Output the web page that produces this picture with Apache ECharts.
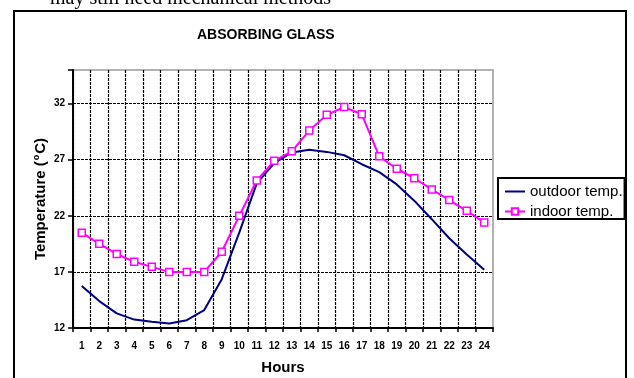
<!DOCTYPE html>
<html>
<head>
<meta charset="utf-8">
<script src="https://cdn.jsdelivr.net/npm/echarts@6/dist/echarts.min.js"></script>
<style>
  html, body { margin: 0; padding: 0; background: #fff; }
  #chart { width: 634px; height: 378px; }
</style>
</head>
<body>
<div id="chart"></div>
<script>
// Hourly temperatures behind absorbing glass
const hours = ['1','2','3','4','5','6','7','8','9','10','11','12','13','14','15','16','17','18','19','20','21','22','23','24'];
const outdoorTemp = [15.75, 14.4, 13.3, 12.75, 12.55, 12.4, 12.7, 13.6, 16.35, 20.5, 24.9, 26.7, 27.65, 27.9, 27.7, 27.4, 26.6, 25.9, 24.8, 23.35, 21.7, 20.0, 18.55, 17.2];
const indoorTemp = [20.5, 19.5, 18.6, 17.9, 17.45, 17.0, 17.0, 17.0, 18.8, 22.0, 25.15, 26.9, 27.75, 29.6, 31.0, 31.7, 31.05, 27.3, 26.2, 25.35, 24.35, 23.4, 22.45, 21.4];
const yMin = 12, yMax = 35, yStep = 5;

const FONT = 'Liberation Sans, Arial, sans-serif';
const GRID_DASH = [3, 1];

// vertical grid lines: all black except the right edge, which the grey plot border shows
const vLineColors = hours.map(() => '#000').concat(['rgba(0,0,0,0)']);
// horizontal grid lines: black except the top edge
const hLineColors = [];
for (let v = yMin; v < yMax; v += yStep) hLineColors.push('#000');
hLineColors.push('rgba(0,0,0,0)');

const chart = echarts.init(document.getElementById('chart'), null, { renderer: 'canvas' });

chart.setOption({
  animation: false,
  backgroundColor: '#fff',
  title: {
    text: 'ABSORBING GLASS',
    left: 192,
    top: 23,
    textStyle: { fontFamily: FONT, fontSize: 14, fontWeight: 'bold', color: '#000' }
  },
  graphic: [
    {
      type: 'text',
      left: 50,
      top: -11,
      style: { text: 'may still need mechanical methods', font: '20px "Liberation Serif", "Times New Roman", serif', fill: '#000' }
    },
    {
      type: 'rect',
      shape: { x: 14, y: 11, width: 612, height: 400 },
      style: { fill: 'none', stroke: '#000', lineWidth: 2 }
    }
  ],
  legend: {
    orient: 'vertical',
    left: 498,
    top: 178,
    padding: [6, 2, 0, 6],
    itemGap: 5,
    itemWidth: 20,
    itemHeight: 8,
    borderColor: '#000',
    borderWidth: 2,
    backgroundColor: '#fff',
    textStyle: { fontFamily: FONT, fontSize: 15, color: '#000', padding: [0, 0, 0, 0] },
    data: [
      { name: 'outdoor temp.', itemStyle: { color: 'rgba(0,0,0,0)', borderWidth: 0 } },
      { name: 'indoor temp.' }
    ]
  },
  grid: {
    left: 73, right: 141, top: 70, bottom: 50,
    show: true,
    borderColor: '#999',
    borderWidth: 1.5,
    containLabel: false,
    outerBoundsMode: 'none'
  },
  xAxis: {
    type: 'category',
    data: hours,
    boundaryGap: true,
    name: 'Hours',
    nameLocation: 'middle',
    nameGap: 32,
    nameMoveOverlap: false,
    nameTextStyle: { fontFamily: FONT, fontSize: 15, fontWeight: 'bold', color: '#000' },
    axisLine: { show: true, lineStyle: { color: '#000', width: 2 } },
    axisTick: { show: true, alignWithLabel: false, length: 4, lineStyle: { color: '#000', width: 1.5 } },
    axisLabel: { fontFamily: FONT, fontSize: 10, fontWeight: 'bold', color: '#000', margin: 13, interval: 0 },
    splitLine: { show: true, lineStyle: { color: vLineColors, width: 1.2, type: GRID_DASH } }
  },
  yAxis: {
    type: 'value',
    min: yMin,
    max: yMax,
    interval: yStep,
    name: '{a|Temperature (}{s|o}{a|C)}',
    nameLocation: 'middle',
    nameGap: 24,
    nameMoveOverlap: false,
    nameTextStyle: {
      rich: {
        a: { fontFamily: FONT, fontSize: 15, fontWeight: 'bold', color: '#000' },
        s: { fontFamily: FONT, fontSize: 9, fontWeight: 'bold', color: '#000', verticalAlign: 'top', padding: [0, 1, 8, 1] }
      }
    },
    axisLine: { show: true, lineStyle: { color: '#000', width: 2 } },
    axisTick: { show: true, length: 5, lineStyle: { color: '#000', width: 1.5 } },
    axisLabel: {
      fontFamily: FONT, fontSize: 10, fontWeight: 'bold', color: '#000', margin: 8,
      formatter: v => (v === yMax ? '' : String(v))
    },
    splitLine: {
      show: true,
      lineStyle: { color: hLineColors, width: 1.2, type: GRID_DASH }
    }
  },
  series: [
    {
      name: 'outdoor temp.',
      type: 'line',
      data: outdoorTemp,
      symbol: 'none',
      lineStyle: { color: '#000080', width: 2 },
      itemStyle: { color: '#000080' },
      z: 3
    },
    {
      name: 'indoor temp.',
      type: 'line',
      data: indoorTemp,
      symbol: 'rect',
      symbolSize: 7,
      lineStyle: { color: '#ff00ff', width: 2 },
      itemStyle: { color: '#fff', borderColor: '#ff00ff', borderWidth: 1.5 },
      z: 4
    }
  ]
});
</script>
</body>
</html>
